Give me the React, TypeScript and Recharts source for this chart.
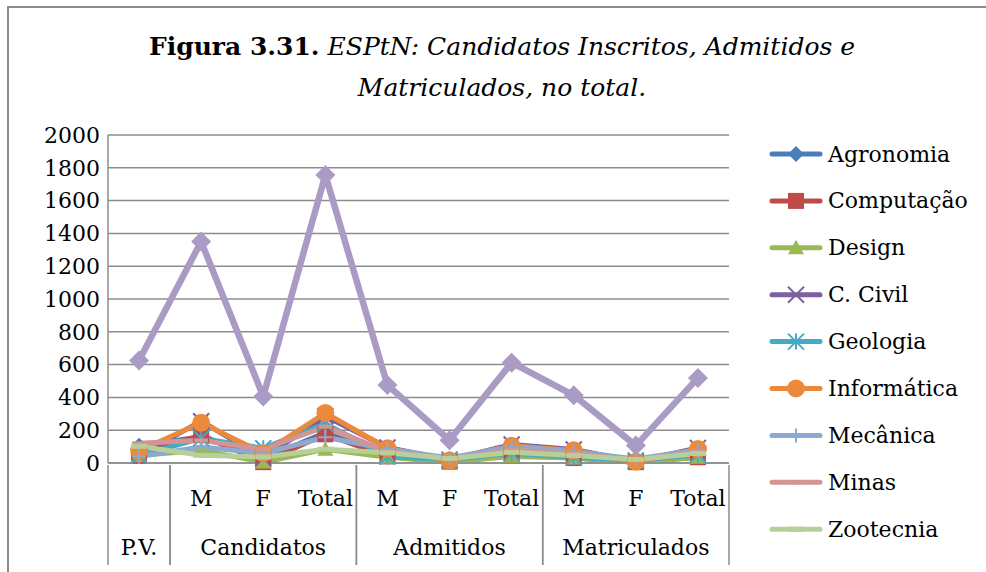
import { CartesianGrid, Line, LineChart, XAxis, YAxis } from 'recharts';

const W = 986;
const H = 572;
const MARGIN = { top: 135, right: 257, bottom: 0, left: 8 };
const Y_AXIS_W = 100;
const X_AXIS_H = 109;
const FONT = '"DejaVu Serif", serif';
const GRID = '#8c8c8c';

// categories: sub label (first level) and group (second level)
const subLabels = ['', 'M', 'F', 'Total', 'M', 'F', 'Total', 'M', 'F', 'Total'];
const groupLabels = [
  'P.V.',
  'Candidatos', 'Candidatos', 'Candidatos',
  'Admitidos', 'Admitidos', 'Admitidos',
  'Matriculados', 'Matriculados', 'Matriculados',
];
const yTicks = [0, 200, 400, 600, 800, 1000, 1200, 1400, 1600, 1800, 2000];

// values per course, in category order
const agronomia = [105, 160, 25, 185, 45, 12, 57, 40, 10, 50];
const computacao = [45, 170, 5, 175, 40, 8, 48, 30, 5, 35];
const design = [45, 78, 5, 83, 35, 5, 40, 30, 5, 35];
const civil = [45, 255, 30, 285, 95, 18, 113, 82, 10, 92];
const geologia = [45, 150, 90, 240, 40, 20, 60, 35, 15, 50];
const informatica = [75, 245, 60, 305, 90, 15, 105, 77, 8, 85];
const mecanica = [40, 98, 59, 157, 85, 30, 100, 70, 25, 80];
const minas = [120, 138, 84, 222, 70, 25, 80, 55, 18, 65];
const zootecnia = [102, 47, 37, 84, 62, 28, 65, 45, 22, 58];
const total = [625, 1350, 406, 1756, 475, 139, 612, 413, 106, 519];

type Shape = 'diamond' | 'square' | 'triangle' | 'cross' | 'star' | 'circle' | 'plus' | 'dash' | 'longdash';

interface SeriesDef {
  key: string;
  name: string;
  color: string;
  shape: Shape;
  values: number[];
  width: number;
  size: number;
  legend: boolean;
}

const series: SeriesDef[] = [
  { key: 'agronomia', name: 'Agronomia', color: '#4a7ebb', shape: 'diamond', values: agronomia, width: 5, size: 8, legend: true },
  { key: 'computacao', name: 'Computação', color: '#be4b48', shape: 'square', values: computacao, width: 5, size: 8, legend: true },
  { key: 'design', name: 'Design', color: '#98b954', shape: 'triangle', values: design, width: 5, size: 8, legend: true },
  { key: 'civil', name: 'C. Civil', color: '#7d60a0', shape: 'cross', values: civil, width: 5, size: 8, legend: true },
  { key: 'geologia', name: 'Geologia', color: '#46aac5', shape: 'star', values: geologia, width: 5, size: 8, legend: true },
  { key: 'informatica', name: 'Informática', color: '#ec8a3c', shape: 'circle', values: informatica, width: 5, size: 9, legend: true },
  { key: 'mecanica', name: 'Mecânica', color: '#8ea9d1', shape: 'plus', values: mecanica, width: 5, size: 7, legend: true },
  { key: 'minas', name: 'Minas', color: '#d39592', shape: 'dash', values: minas, width: 5, size: 7, legend: true },
  { key: 'zootecnia', name: 'Zootecnia', color: '#b7cf98', shape: 'longdash', values: zootecnia, width: 5, size: 8, legend: true },
  { key: 'total', name: 'Total', color: '#a99bc4', shape: 'diamond', values: total, width: 6.5, size: 10, legend: false },
];

const data = subLabels.map((sub, i) => {
  const row: Record<string, string | number> = { sub, group: groupLabels[i] };
  series.forEach((s) => { row[s.key] = s.values[i]; });
  return row;
});

const N = subLabels.length;
const STEP = (W - MARGIN.left - Y_AXIS_W - MARGIN.right) / N;

function Marker({ shape, cx, cy, color, size }: { shape: Shape; cx: number; cy: number; color: string; size: number }) {
  const s = size;
  switch (shape) {
    case 'diamond':
      return <polygon points={`${cx},${cy - s} ${cx + s},${cy} ${cx},${cy + s} ${cx - s},${cy}`} fill={color} />;
    case 'square':
      return <rect x={cx - s} y={cy - s} width={2 * s} height={2 * s} fill={color} />;
    case 'triangle':
      return <polygon points={`${cx},${cy - s} ${cx + s},${cy + s * 0.8} ${cx - s},${cy + s * 0.8}`} fill={color} />;
    case 'circle':
      return <circle cx={cx} cy={cy} r={s} fill={color} />;
    case 'cross':
      return (
        <g stroke={color} strokeWidth={2}>
          <line x1={cx - s} y1={cy - s} x2={cx + s} y2={cy + s} />
          <line x1={cx - s} y1={cy + s} x2={cx + s} y2={cy - s} />
        </g>
      );
    case 'star':
      return (
        <g stroke={color} strokeWidth={2}>
          <line x1={cx - s} y1={cy - s} x2={cx + s} y2={cy + s} />
          <line x1={cx - s} y1={cy + s} x2={cx + s} y2={cy - s} />
          <line x1={cx} y1={cy - s} x2={cx} y2={cy + s} />
        </g>
      );
    case 'plus':
      return (
        <g stroke={color} strokeWidth={2}>
          <line x1={cx - s} y1={cy} x2={cx + s} y2={cy} />
          <line x1={cx} y1={cy - s} x2={cx} y2={cy + s} />
        </g>
      );
    case 'dash':
      return <rect x={cx - s} y={cy - 2} width={2 * s} height={4} fill={color} />;
    case 'longdash':
      return <rect x={cx - s} y={cy - 2.5} width={2 * s} height={5} fill={color} />;
    default:
      return null;
  }
}

function CategoryTick(props: any) {
  const { x, y } = props;
  const i: number = props.index ?? props.payload?.index ?? 0;
  const g = groupLabels[i];
  const first = i === 0 || groupLabels[i - 1] !== g;
  const last = i === N - 1 || groupLabels[i + 1] !== g;
  let span = 0;
  while (groupLabels[i + span] === g) span++;
  const textStyle = { fontFamily: FONT, fontSize: 22, fill: '#000' };
  return (
    <g>
      <text x={x} y={y + 33} textAnchor="middle" dominantBaseline="central" style={textStyle}>
        {subLabels[i]}
      </text>
      {first && (
        <>
          <line x1={x - STEP / 2} x2={x - STEP / 2} y1={y} y2={y + 100} stroke={GRID} strokeWidth={1.5} />
          <text x={x + ((span - 1) * STEP) / 2} y={y + 82} textAnchor="middle" dominantBaseline="central" style={textStyle}>
            {g}
          </text>
        </>
      )}
      {last && <line x1={x + STEP / 2} x2={x + STEP / 2} y1={y} y2={y + 100} stroke={GRID} strokeWidth={1.5} />}
    </g>
  );
}

function LegendBox() {
  const items = series.filter((s) => s.legend);
  return (
    <svg width={226} height={420} style={{ position: 'absolute', left: 760, top: 130 }}>
      {items.map((s, i) => {
        const cy = 24 + i * 46.9;
        return (
          <g key={s.key}>
            <line x1={12} x2={60} y1={cy} y2={cy} stroke={s.color} strokeWidth={5} strokeLinecap="round" />
            <Marker shape={s.shape} cx={36} cy={cy} color={s.color} size={s.size} />
            <text x={68} y={cy} dominantBaseline="central" style={{ fontFamily: FONT, fontSize: 22, fill: '#000' }}>
              {s.name}
            </text>
          </g>
        );
      })}
    </svg>
  );
}

export default function App() {
  return (
    <div style={{ position: 'absolute', left: 0, top: 0, width: W, height: H, overflow: 'hidden', background: '#fff' }}>
      <div style={{ position: 'absolute', left: 7, top: 6, width: 1100, height: 700, border: `2px solid ${GRID}` }} />
      <div
        style={{
          position: 'absolute', left: 0, top: 26, width: 1004, textAlign: 'center',
          fontFamily: FONT, fontSize: 25, lineHeight: '41px', color: '#000',
        }}
      >
        <b>Figura 3.31.</b> <i>ESPtN: Candidatos Inscritos, Admitidos e</i>
        <br />
        <i>Matriculados, no total.</i>
      </div>
      <div style={{ position: 'absolute', left: 0, top: 0 }}>
        <LineChart width={W} height={H} data={data} margin={MARGIN}>
          <CartesianGrid vertical={false} stroke={GRID} strokeWidth={1.5} />
          <XAxis
            dataKey="sub"
            interval={0}
            height={X_AXIS_H}
            padding={{ left: STEP / 2, right: STEP / 2 }}
            tickLine={false}
            tickSize={0}
            axisLine={{ stroke: GRID, strokeWidth: 1.5 }}
            tick={(p: any) => <CategoryTick {...p} />}
          />
          <YAxis
            width={Y_AXIS_W}
            domain={[0, 2000]}
            ticks={yTicks}
            interval={0}
            tickLine={false}
            tickSize={0}
            tickMargin={8}
            axisLine={{ stroke: GRID, strokeWidth: 1.5 }}
            tick={{ fontSize: 22, fontFamily: FONT, fill: '#000' }}
          />
          {series.map((s) => (
            <Line
              key={s.key}
              type="linear"
              dataKey={s.key}
              name={s.name}
              stroke={s.color}
              strokeWidth={s.width}
              strokeLinejoin="round"
              isAnimationActive={false}
              dot={(p: any) => (
                <g key={`${s.key}-${p.index}`}>
                  {p.cx != null && p.cy != null && (
                    <Marker shape={s.shape} cx={p.cx} cy={p.cy} color={s.color} size={s.size} />
                  )}
                </g>
              )}
              activeDot={false}
            />
          ))}
        </LineChart>
      </div>
      <LegendBox />
    </div>
  );
}
